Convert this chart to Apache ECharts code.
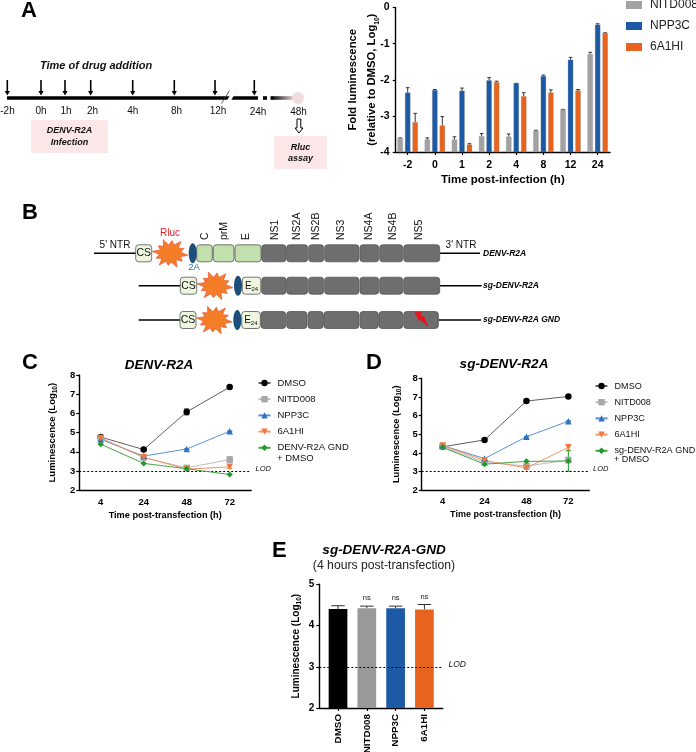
<!DOCTYPE html>
<html><head><meta charset="utf-8">
<style>html,body{margin:0;padding:0;background:#fff}#c{width:696px;height:752px}</style>
<script src="https://cdn.jsdelivr.net/npm/echarts@6/dist/echarts.min.js"></script>
</head><body><div id="c"></div>
<script>
// ---------- data ----------
const hoursA = ['-2','0','1','2','4','8','12','24'];
const nitdA  = [-3.62,-3.66,-3.66,-3.57,-3.58,-3.42,-2.83,-1.30];
const nitdAe = [0.01,0.05,0.08,0.08,0.08,0.02,0.01,0.06];
const nppA   = [-2.36,-2.29,-2.31,-2.02,-2.10,-1.90,-1.45,-0.48];
const nppAe  = [0.14,0.02,0.08,0.08,0.00,0.03,0.07,0.03];
const hiA    = [-3.18,-3.27,-3.80,-2.07,-2.46,-2.36,-2.30,-0.71];
const hiAe   = [0.25,0.25,0.03,0.03,0.10,0.08,0.03,0.01];

const hoursT = ['4','24','48','72'];
const dmsoC = [4.77,4.12,6.08,7.37], dmsoCe = [0.05,0.05,0.15,0.05];
const nitdC = [4.72,3.70,3.17,3.60], nitdCe = [0.03,0.10,0.10,0.15];
const nppC  = [4.65,3.78,4.15,5.07], nppCe  = [0.01,0.01,0.02,0.02];
const hiC   = [4.72,3.72,3.10,3.22], hiCe   = [0.02,0.03,0.03,0.08];
const gndC  = [4.40,3.40,3.12,2.82], gndCe  = [0.01,0.01,0.01,0.01];

const dmsoD = [4.33,4.70,6.78,7.03], dmsoDe = [0.03,0.03,0.03,0.03];
const nitdD = [4.35,3.50,3.30,3.62], nitdDe = [0.03,0.10,0.10,0.15];
const nppD  = [4.40,3.70,4.87,5.70], nppDe  = [0.01,0.01,0.02,0.02];
const hiD   = [4.40,3.60,3.20,4.30], hiDe   = [0.02,0.03,0.08,0.15];
const gndD  = [4.30,3.40,3.55,3.57], gndDe  = [0.01,0.03,0.01,0.55];

const groupsE = ['DMSO','NITD008','NPP3C','6A1HI'];
const valuesE = [4.40,4.42,4.42,4.39];
const errorsE = [0.08,0.05,0.05,0.12];

// ---------- styles ----------
const FF = '"Liberation Sans",Arial,sans-serif';
const GRAY='#a2a2a2', BLUE='#1c5aa6', ORANGE='#e8641e';
const L = {dmso:'#000000', nitd:'#a8a8a8', npp:'#2f72bd', hi:'#f0783a', gnd:'#1f9a2a'};
const LINE = {dmso:'#606060', nitd:'#bdbdbd', npp:'#5b93d0', hi:'#f29468', gnd:'#45a545'};

function xCat(g, data, margin){return {gridIndex:g,type:'category',data,boundaryGap:true,
  axisLine:{onZero:false,lineStyle:{color:'#000',width:1.4}},
  axisTick:{alignWithLabel:true,length:3,lineStyle:{color:'#000',width:1.2}},
  axisLabel:{color:'#000',fontFamily:FF,fontWeight:'bold',fontSize:9.5,margin,interval:0},
  splitLine:{show:false}};}
function yVal(g,min,max,fs,margin){return {gridIndex:g,type:'value',min,max,interval:1,
  axisLine:{show:true,onZero:false,lineStyle:{color:'#000',width:1.4}},
  axisTick:{show:true,length:3,lineStyle:{color:'#000',width:1.2}},
  axisLabel:{color:'#000',fontFamily:FF,fontWeight:'bold',fontSize:fs,margin},
  splitLine:{show:false}};}
function xNum(g,min,max,labels,extra){return Object.assign({gridIndex:g,type:'value',min,max,
  axisLine:{onZero:false,lineStyle:{color:'#000',width:1.4}},
  axisTick:{length:3,customValues:labels.map((_,i)=>i),lineStyle:{color:'#000',width:1.2}},
  axisLabel:Object.assign({color:'#000',fontFamily:FF,fontWeight:'bold',fontSize:10,margin:5,
     customValues:labels.map((_,i)=>i),formatter:v=>labels[Math.round(v)],showMinLabel:true,showMaxLabel:true},extra||{}),
  splitLine:{show:false}});}
function rowsOf(v,e){return v.map((y,i)=>[i,y,e[i]]);}

// bar with upper error bar, drawn through the axes
function barSeries(name,g,v,e,color,dx,w,colors,notes){return {type:'custom',name,xAxisIndex:g,yAxisIndex:g,z:4,
  itemStyle:{color},encode:{x:0,y:1},data:rowsOf(v,e),
  renderItem(p,api){
    const i=api.value(0), y=api.value(1), er=api.value(2);
    const top=api.coord([i,y]);
    const yMin=g===0?-4:2;
    const b=api.coord([i,yMin]), t=api.coord([i,y+er]);
    const cx=top[0]+dx, c=colors?colors[i]:color;
    const ch=[
      {type:'line',shape:{x1:cx,y1:top[1],x2:cx,y2:t[1]},style:{stroke:'#333',lineWidth:1}},
      {type:'line',shape:{x1:cx-w*0.36,y1:t[1],x2:cx+w*0.36,y2:t[1]},style:{stroke:'#333',lineWidth:1}},
      {type:'rect',shape:{x:cx-w/2,y:top[1],width:w,height:b[1]-top[1]},style:{fill:c,stroke:colors?null:'#8a8a8a',lineWidth:colors?0:0.3}}];
    if(notes&&notes[i])ch.push({type:'text',x:cx,y:t[1]-8,style:{text:notes[i],font:'7.5px '+FF,fill:'#222',textAlign:'center',textVerticalAlign:'middle'}});
    return {type:'group',children:ch};
  }};}
function lineSeries(name,g,v,color,lineColor,symbol,size){return {type:'line',name,xAxisIndex:g,yAxisIndex:g,data:v,z:5,
  symbol,symbolSize:size,lineStyle:{color:lineColor,width:1},itemStyle:{color},showSymbol:true,animation:false};}
function errSeries(g,v,e,color){return {type:'custom',name:'err'+g+color,xAxisIndex:g,yAxisIndex:g,z:4,encode:{x:0,y:1},data:rowsOf(v,e),
  renderItem(p,api){
    const i=api.value(0),y=api.value(1),er=api.value(2);
    const a=api.coord([i,y+er]),b=api.coord([i,y-er]);
    return {type:'group',children:[
      {type:'line',shape:{x1:a[0],y1:a[1],x2:b[0],y2:b[1]},style:{stroke:color,lineWidth:1}},
      {type:'line',shape:{x1:a[0]-2.5,y1:a[1],x2:a[0]+2.5,y2:a[1]},style:{stroke:color,lineWidth:1}},
      {type:'line',shape:{x1:b[0]-2.5,y1:b[1],x2:b[0]+2.5,y2:b[1]},style:{stroke:color,lineWidth:1}}]};
  }};}
function lod(name,g){return {type:'line',name,xAxisIndex:g,yAxisIndex:g,data:[],z:1,
  markLine:{silent:true,symbol:'none',animation:false,label:{show:false},
    lineStyle:{color:'#000',type:[2,2],width:1},data:[{yAxis:3}]}};}
function panelLines(p,g,d){return [
  lod(p+'lod',g),
  errSeries(g,d.dmso,d.dmsoE,L.dmso),errSeries(g,d.nitd,d.nitdE,L.nitd),errSeries(g,d.npp,d.nppE,L.npp),errSeries(g,d.hi,d.hiE,L.hi),errSeries(g,d.gnd,d.gndE,L.gnd),
  lineSeries(p+'|DMSO',g,d.dmso,L.dmso,LINE.dmso,'circle',6.5),
  lineSeries(p+'|NITD008',g,d.nitd,L.nitd,LINE.nitd,'rect',6.5),
  lineSeries(p+'|NPP3C',g,d.npp,L.npp,LINE.npp,'triangle',6.5),
  lineSeries(p+'|6A1HI',g,d.hi,L.hi,LINE.hi,'path://M0 0L10 0L5 10Z',6.5),
  lineSeries(p+'|'+d.gndName,g,d.gnd,L.gnd,LINE.gnd,'diamond',6)];}
function lineLegend(p,left,top,gndName,fs){return {left,top,padding:0,orient:'vertical',itemWidth:12,itemHeight:8,itemGap:5.2,selectedMode:false,
  data:['DMSO','NITD008','NPP3C','6A1HI',gndName].map(n=>p+'|'+n),formatter:n=>n.split('|')[1],
  textStyle:{fontFamily:FF,fontSize:fs,color:'#111',padding:[0,0,0,2],lineHeight:11}};}

// ---------- schematic drawing helpers ----------
const G=[];
function T(x,y,text,o){o=o||{};G.push({type:'text',x,y,rotation:o.rot||0,z:20,style:{text,fill:o.c||'#111',
  font:(o.i?'italic ':'')+(o.b?'bold ':'')+(o.s||10)+'px '+FF,textAlign:o.a||'left',textVerticalAlign:'middle'}});}
function R(x,y,w,h,fill,o){o=o||{};G.push({type:'rect',z:o.z||10,shape:{x,y,width:w,height:h,r:o.r||0},style:{fill,stroke:o.st||null,lineWidth:o.lw||0}});}
function Ln(x1,y1,x2,y2,c,w){G.push({type:'line',z:10,shape:{x1,y1,x2,y2},style:{stroke:c||'#000',lineWidth:w||1}});}
function Pg(points,fill,st,lw){G.push({type:'polygon',z:12,shape:{points},style:{fill,stroke:st||null,lineWidth:lw||0}});}
function star(cx,cy,rx,ry){const k=[1,.62,.86,.55,1,.6,.8,.58,1,.56,.84,.6,1,.58,.82,.6,.98,.56,.86,.6,1,.58,.84,.6];
  const pts=k.map((f,i)=>{const a=i/k.length*Math.PI*2+0.13;return [cx+Math.cos(a)*rx*f,cy+Math.sin(a)*ry*f];});
  Pg(pts,'#f47e28','#e8452a',0.6);}
function ell(cx,cy){G.push({type:'ellipse',z:13,shape:{cx,cy,rx:4,ry:10},style:{fill:'#1c4f7c'}});}
function box(x1,x2,cy,fill){R(x1,cy-8.5,x2-x1,17,fill,{r:3,st:'#555',lw:.8});}

// panel letters
[['A',21,10.5],['B',22,213],['C',22,363],['D',366,363],['E',272,551]].forEach(a=>T(a[1],a[2],a[0],{b:1,s:22,c:'#000'}));

// panel A timeline
T(40,66,'Time of drug addition',{b:1,i:1,s:11});
R(7,96.2,251,3.6,'#000');
R(263,96.2,4,3.6,'#000'); R(270.5,96.2,3,3.6,'#000');
G.push({type:'rect',z:10,shape:{x:273,y:96.2,width:22,height:3.6},style:{fill:{type:'linear',x:0,y:0,x2:1,y2:0,colorStops:[{offset:0,color:'#111'},{offset:1,color:'#f0dcdc'}]}}});
G.push({type:'circle',z:11,shape:{cx:298,cy:98,r:6},style:{fill:'#f0dede'}});
Pg([[225,104],[229,104],[237,90],[233,90]],'#fff');
Ln(221.5,103.5,229.5,90.5,'#333',.8); Ln(227.5,104,236.5,90,'#333',.8);
[7.3,41,65,90.7,132.7,174.3,215,254.3].forEach(x=>{Ln(x,80,x,92,'#000',1.6);Pg([[x-2.6,91],[x+2.6,91],[x,95.5]],'#000');});
[['-2h',7.5,111],['0h',41,111],['1h',66,111],['2h',92.5,111],['4h',132.7,111],['8h',176.5,111],['12h',218,111],['24h',258,112],['48h',298.5,112]]
  .forEach(a=>T(a[1],a[2],a[0],{a:'center',s:10}));
R(31,120,77,33,'#fbe6e8');
T(69.5,131,'DENV-R2A',{a:'center',b:1,i:1,s:9}); T(69.5,143,'Infection',{a:'center',b:1,i:1,s:9});
Pg([[297,119],[300.8,119],[300.8,128],[303,128],[299,133],[295,128],[297,128]],'#fff','#000',1);
R(274,136,53,33,'#fbe6e8');
T(300.5,148,'Rluc',{a:'center',b:1,i:1,s:9}); T(300.5,159,'assay',{a:'center',b:1,i:1,s:9});

// panel B genome maps
const GREEN='#c2dfae', PALE='#eef6e0', DARK='#6e6e6e';
function grays(cy,e){e.forEach(s=>box(s[0],s[1],cy,DARK));}
const segs1=[[261.7,286],[286.7,307.7],[308.7,323.7],[324.7,359],[360,378.7],[379.7,402.7],[403.7,439.7]];
const segs3=[[261,285.7],[286.7,307],[308,323.3],[324,359],[360,378.3],[379,402.7],[403.7,438.3]];
Ln(94,253.3,136,253.3,'#000',1.6); Ln(439.7,253.3,480,253.3,'#000',1.6);
box(135.7,151.7,253.3,PALE); T(143.7,253.5,'CS',{a:'center',s:10.5});
star(170,253.3,18,15); ell(192.7,253.3);
box(196.7,212.3,253.3,GREEN); box(213.3,234,253.3,GREEN); box(235,261,253.3,GREEN);
grays(253.3,segs1);
T(115,245,"5' NTR",{a:'center',s:10}); T(461,245,"3' NTR",{a:'center',s:10});
T(170,233,'Rluc',{a:'center',s:10,c:'#e0202a'}); T(194,267.5,'2A',{a:'center',s:9.5,c:'#2f6fa8'});
[['C',205],['prM',224],['E',246],['NS1',275],['NS2A',296.7],['NS2B',316],['NS3',340.7],['NS4A',369.3],['NS4B',392.7],['NS5',419.3]]
  .forEach(a=>T(a[1],240,a[0],{rot:Math.PI/2,s:10.5}));
T(483,253.5,'DENV-R2A',{b:1,i:1,s:8.5,c:'#000'});

Ln(138.7,285.7,180.5,285.7,'#000',1.6); Ln(439.7,285.7,481.7,285.7,'#000',1.6);
box(180.3,196.7,285.7,PALE); T(188.5,286,'CS',{a:'center',s:10.5});
star(215,285.7,18,15); ell(238,285.7); box(242.3,260.7,285.7,PALE);
T(245,286,'E',{s:10}); T(251.5,289,'24',{s:6});
grays(285.7,segs1);
T(483,285.7,'sg-DENV-R2A',{b:1,i:1,s:8.5,c:'#000'});

Ln(138.7,320,180,320,'#000',1.6); Ln(438.3,320,481,320,'#000',1.6);
box(180,196,320,PALE); T(188,320.3,'CS',{a:'center',s:10.5});
star(214.3,320,18,15); ell(237.3,320); box(241.7,260.3,320,PALE);
T(244.3,320.3,'E',{s:10}); T(250.8,323.3,'24',{s:6});
grays(320,segs3);
Pg([[414.5,312],[422,312],[420.5,316.5],[424,316],[428.5,327],[420,320],[419,321]],'#e8141c');
T(483,319.7,'sg-DENV-R2A GND',{b:1,i:1,s:8.5,c:'#000'});

// titles and notes for chart panels
T(159,365,'DENV-R2A',{a:'center',b:1,i:1,s:13.5,c:'#000'});
T(504,364,'sg-DENV-R2A',{a:'center',b:1,i:1,s:13.5,c:'#000'});
T(384,550.5,'sg-DENV-R2A-GND',{a:'center',b:1,i:1,s:13.5,c:'#000'});
T(384,566,'(4 hours post-transfection)',{a:'center',s:12.2,c:'#222'});
T(255.5,469,'LOD',{i:1,s:7.5}); T(593,469,'LOD',{i:1,s:7.5}); T(448.5,665,'LOD',{i:1,s:8.5});
T(277,458.5,'+ DMSO',{s:9.5}); T(614,459,'+ DMSO',{s:9.1});

// ---------- option ----------
const sub={s:{fontSize:6.5,fontWeight:'bold',fontFamily:FF,verticalAlign:'bottom',color:'#000',padding:[3,0,0,0]}};
const yName=(fs,lh)=>({fontFamily:FF,fontWeight:'bold',fontSize:fs,color:'#000',rich:{s:Object.assign({lineHeight:lh},sub.s)},lineHeight:lh});
const xName=(fs)=>({fontFamily:FF,fontWeight:'bold',fontSize:fs,color:'#000'});

const dataC={dmso:dmsoC,dmsoE:dmsoCe,nitd:nitdC,nitdE:nitdCe,npp:nppC,nppE:nppCe,hi:hiC,hiE:hiCe,gnd:gndC,gndE:gndCe,gndName:'DENV-R2A GND'};
const dataD={dmso:dmsoD,dmsoE:dmsoDe,nitd:nitdD,nitdE:nitdDe,npp:nppD,nppE:nppDe,hi:hiD,hiE:hiDe,gnd:gndD,gndE:gndDe,gndName:'sg-DENV-R2A GND'};

const option={
  animation:false,backgroundColor:'#fff',
  grid:[
    {left:395.7,top:7.5,width:214.3,height:144.5,outerBoundsMode:'none'},
    {left:79.2,top:375,width:172,height:115.3,outerBoundsMode:'none'},
    {left:421.7,top:378.3,width:167.6,height:112,outerBoundsMode:'none'},
    {left:319.3,top:584.3,width:123.4,height:123.7,outerBoundsMode:'none'}],
  xAxis:[
    Object.assign(xNum(0,-0.442,7.454,hoursA,{fontSize:10.5,margin:8}),{name:'Time post-infection (h)',nameLocation:'middle',nameGap:22,nameTextStyle:xName(11.5)}),
    Object.assign(xCat(1,hoursT,7),{name:'Time post-transfection (h)',nameLocation:'middle',nameGap:21,nameTextStyle:xName(9.2)}),
    Object.assign(xCat(2,hoursT,6),{name:'Time post-transfection (h)',nameLocation:'middle',nameGap:20,nameTextStyle:xName(9)}),
    xNum(3,-0.65,3.635,groupsE,{rotate:90,fontSize:9.8,margin:6})],
  yAxis:[
    Object.assign(yVal(0,-4,0,10.5,6),{name:'Fold luminescence\n(relative to DMSO, Log{s|10})',nameLocation:'middle',nameGap:14.5,nameMoveOverlap:false,nameTextStyle:yName(11.3,19)}),
    Object.assign(yVal(1,2,8,9.5,4),{name:'Luminescence (Log{s|10})',nameLocation:'middle',nameGap:20,nameTextStyle:yName(9.5,13)}),
    Object.assign(yVal(2,2,8,9.5,4),{name:'Luminescence (Log{s|10})',nameLocation:'middle',nameGap:19,nameTextStyle:yName(9.3,13)}),
    Object.assign(yVal(3,2,5,10,5),{name:'Luminescence (Log{s|10})',nameLocation:'middle',nameGap:17,nameTextStyle:yName(10,13)})],
  legend:[
    {left:626,top:-1,padding:0,orient:'vertical',itemWidth:16,itemHeight:8,itemGap:9,selectedMode:false,icon:'rect',
      data:['A|NITD008','A|NPP3C','A|6A1HI'],formatter:n=>n.split('|')[1],
      textStyle:{fontFamily:FF,fontSize:12,color:'#222',padding:[0,0,0,3],lineHeight:11}},
    lineLegend('C',257.5,377.5,'DENV-R2A GND',9.5),
    lineLegend('D',594.5,380.5,'sg-DENV-R2A GND',9.1)],
  graphic:{elements:G},
  series:[
    barSeries('A|NITD008',0,nitdA,nitdAe,GRAY,-7.5,5),
    barSeries('A|NPP3C',0,nppA,nppAe,BLUE,0,5),
    barSeries('A|6A1HI',0,hiA,hiAe,ORANGE,7.5,5),
    ...panelLines('C',1,dataC),
    ...panelLines('D',2,dataD),
    lod('Elod',3),
    barSeries('E',3,valuesE,errorsE,'#000',0,18.7,['#000',"#999999",BLUE,ORANGE],[null,'ns','ns','ns'])
  ]};
echarts.init(document.getElementById('c'),null,{renderer:'canvas'}).setOption(option);
</script></body></html>
